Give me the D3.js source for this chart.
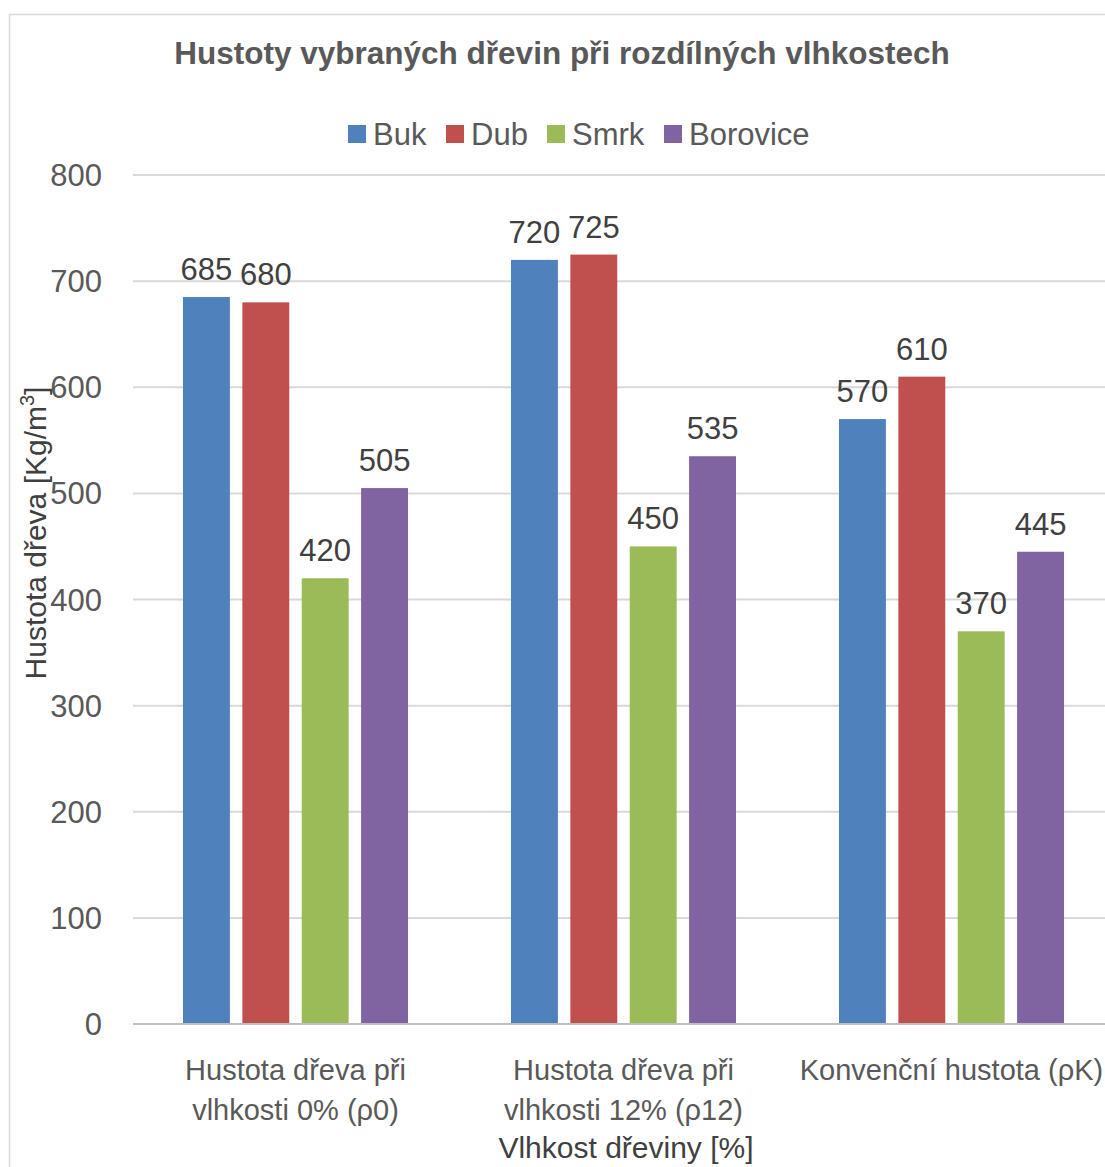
<!DOCTYPE html>
<html>
<head>
<meta charset="utf-8">
<script src="https://cdn.jsdelivr.net/npm/d3@7"></script>
<style>
  body { margin: 0; background: #fff; }
  svg { display: block; font-family: "Liberation Sans", Arial, sans-serif; }
</style>
</head>
<body>
<svg id="chart" width="1105" height="1167"></svg>
<script>
var categories = [
  ["Hustota dřeva při", "vlhkosti 0% (ρ0)"],
  ["Hustota dřeva při", "vlhkosti 12% (ρ12)"],
  ["Konvenční hustota (ρK)"]
];
var seriesNames = ["Buk", "Dub", "Smrk", "Borovice"];
var buk = [685, 720, 570];
var dub = [680, 725, 610];
var smrk = [420, 450, 370];
var borovice = [505, 535, 445];
var yTicks = [0, 100, 200, 300, 400, 500, 600, 700, 800];
var colors = ["#4f81bd", "#c0504d", "#9bbb59", "#8064a2"];

var values = [buk, dub, smrk, borovice];
var data = categories.map(function(c, i) {
  return { key: i, vals: seriesNames.map(function(s, j) { return { name: s, v: values[j][i], j: j }; }) };
});

var w = 1105, h = 1167;
var svg = d3.select("#chart");

// chart frame
svg.append("rect")
  .attr("x", 9.5).attr("y", 14.5)
  .attr("width", w + 20).attr("height", h + 20)
  .attr("fill", "#fff").attr("stroke", "#d9d9d9").attr("stroke-width", 1.5);

var x0 = d3.scaleBand()
  .domain(d3.range(categories.length))
  .range([131.5, 1115.5])
  .paddingInner(0.314)
  .paddingOuter(0.157);

var x1 = d3.scaleBand()
  .domain(d3.range(seriesNames.length))
  .range([0, x0.bandwidth()])
  .paddingInner(0.21);

var y = d3.scaleLinear().domain([0, 800]).range([1024, 175]);

// gridlines
svg.append("g")
  .selectAll("line")
  .data(yTicks.filter(function(d) { return d > 0; }))
  .enter()
  .append("line")
  .attr("x1", 133).attr("x2", w)
  .attr("y1", function(d) { return y(d); })
  .attr("y2", function(d) { return y(d); })
  .attr("stroke", "#d9d9d9").attr("stroke-width", 2);

// y tick labels
svg.append("g")
  .selectAll("text")
  .data(yTicks)
  .enter()
  .append("text")
  .attr("x", 102)
  .attr("y", function(d) { return y(d) + 11; })
  .attr("text-anchor", "end")
  .attr("fill", "#595959")
  .style("font-size", "31px")
  .text(function(d) { return d; });

// bars
var groups = svg.append("g")
  .selectAll("g")
  .data(data)
  .enter()
  .append("g")
  .attr("transform", function(d) { return "translate(" + x0(d.key) + ",0)"; });

groups.selectAll("rect")
  .data(function(d) { return d.vals; })
  .enter()
  .append("rect")
  .attr("x", function(d) { return x1(d.j); })
  .attr("y", function(d) { return y(d.v); })
  .attr("width", x1.bandwidth())
  .attr("height", function(d) { return y(0) - y(d.v); })
  .attr("fill", function(d) { return colors[d.j]; });

groups.selectAll("text")
  .data(function(d) { return d.vals; })
  .enter()
  .append("text")
  .attr("x", function(d) { return x1(d.j) + x1.bandwidth() / 2; })
  .attr("y", function(d) { return y(d.v) - 17; })
  .attr("text-anchor", "middle")
  .attr("fill", "#404040")
  .style("font-size", "31px")
  .text(function(d) { return d.v; });

// x axis line
svg.append("line")
  .attr("x1", 133).attr("x2", w)
  .attr("y1", y(0)).attr("y2", y(0))
  .attr("stroke", "#bfbfbf").attr("stroke-width", 2);

// category labels
svg.append("g")
  .selectAll("text")
  .data(categories)
  .enter()
  .append("text")
  .attr("x", function(d, i) { return x0(i) + x0.bandwidth() / 2; })
  .attr("y", 1080)
  .attr("text-anchor", "middle")
  .attr("fill", "#595959")
  .style("font-size", "29px")
  .selectAll("tspan")
  .data(function(d) { return d; })
  .enter()
  .append("tspan")
  .attr("x", function() { return d3.select(this.parentNode).attr("x"); })
  .attr("dy", function(d, i) { return i === 0 ? 0 : 40; })
  .text(function(d) { return d; });

// title
svg.append("text")
  .attr("x", 562).attr("y", 64)
  .attr("text-anchor", "middle")
  .attr("fill", "#595959")
  .style("font-size", "31.5px")
  .style("font-weight", "bold")
  .text("Hustoty vybraných dřevin při rozdílných vlhkostech");

// legend
var legendX = [348, 446, 547, 664];
var legend = svg.append("g")
  .selectAll("g")
  .data(seriesNames)
  .enter()
  .append("g")
  .attr("transform", function(d, i) { return "translate(" + legendX[i] + ",125)"; });
legend.append("rect")
  .attr("width", 18).attr("height", 18)
  .attr("fill", function(d, i) { return colors[i]; });
legend.append("text")
  .attr("x", 25).attr("y", 20)
  .attr("fill", "#595959")
  .style("font-size", "31px")
  .text(function(d) { return d; });

// y axis title
var yt = svg.append("text")
  .attr("transform", "translate(46,533) rotate(-90)")
  .attr("text-anchor", "middle")
  .attr("fill", "#404040")
  .style("font-size", "30px");
yt.append("tspan").text("Hustota dřeva [Kg/m");
yt.append("tspan").attr("dy", -12).style("font-size", "20px").text("3");
yt.append("tspan").attr("dy", 12).text("]");

// x axis title
svg.append("text")
  .attr("x", 626).attr("y", 1158)
  .attr("text-anchor", "middle")
  .attr("fill", "#404040")
  .style("font-size", "30px")
  .text("Vlhkost dřeviny  [%]");
</script>
</body>
</html>
